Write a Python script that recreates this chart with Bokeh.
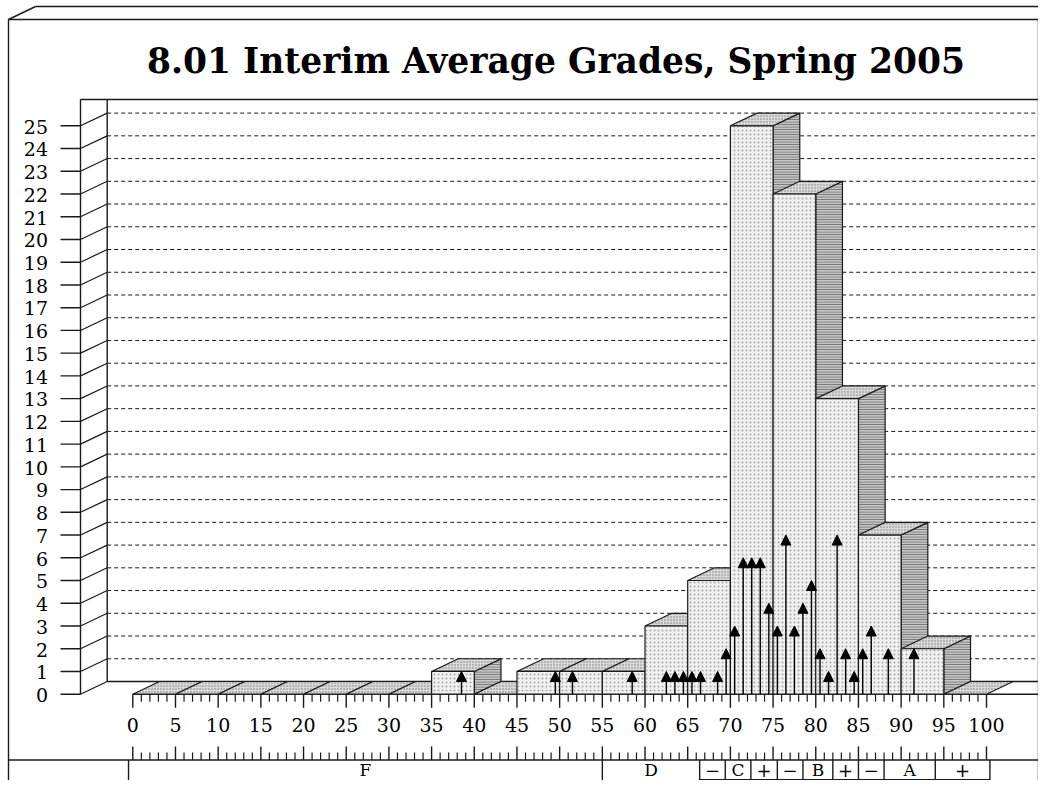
import numpy as np
from bokeh.plotting import figure
from bokeh.models import Range1d, Arrow, NormalHead, ColumnDataSource
from bokeh.core.properties import value
from bokeh.embed import file_html
from bokeh.resources import INLINE

# ---------------- data ----------------
TITLE = "8.01 Interim Average Grades, Spring 2005"
bin_lefts = [0, 5, 10, 15, 20, 25, 30, 35, 40, 45, 50, 55, 60, 65, 70, 75, 80, 85, 90, 95]
bin_width = 5
bin_counts = [0, 0, 0, 0, 0, 0, 0, 1, 0, 1, 1, 1, 3, 5, 25, 22, 13, 7, 2, 0]

score_x = [38.5, 49.5, 51.5, 58.5, 62.5, 63.5, 64.5, 65.5, 66.5, 68.5,
           69.5, 70.5, 71.5, 72.5, 73.5, 74.5, 75.5, 76.5, 77.5, 78.5,
           79.5, 80.5, 81.5, 82.5, 83.5, 84.5, 85.5, 86.5, 88.5, 91.5]
score_n = [1, 1, 1, 1, 1, 1, 1, 1, 1, 1,
           2, 3, 6, 6, 6, 4, 3, 7, 3, 4,
           5, 2, 1, 7, 2, 1, 2, 3, 2, 2]

count_ticks = list(range(0, 26))
grade_major = list(range(0, 101, 5))
grade_minor = [g for g in range(0, 101) if g % 5]

letter_names = ["F", "D", "C", "B", "A"]
letter_edges = [-0.5, 55, 66.4, 75.5, 85, 100.4]
sub_edges = [66.4, 69.4, 72.4, 75.5, 78.5, 82.0, 85.0, 88.0, 94.0, 100.4]
sub_signs = ["\u2212", "", "+", "\u2212", "", "+", "\u2212", "", "+"]

# ---------------- layout (canvas pixels -> data units) ----------------
PXG = 8.537      # px per grade point
PXC = 22.736     # px per count
X0P = 132.3      # canvas x of grade 0
Y0P = 693.7      # canvas y of count 0


def gx(px):
    return (px - X0P) / PXG


def cy(py):
    return (Y0P - py) / PXC


DX = 26.7 / PXG
DY = 12.7 / PXC
W, H = 1038, 780
INK = "#1a1a1a"
FONT = value("DejaVu Serif")

p = figure(width=W, height=H, x_range=Range1d(gx(0), gx(W)),
           y_range=Range1d(cy(H), cy(0)), x_axis_type=None, y_axis_type=None,
           toolbar_location=None, output_backend="svg", min_border=0,
           outline_line_color=None, background_fill_color="white", title=None)
p.grid.visible = False

# ---- back wall dashed grid ----
wall_x = gx(80)
gk = count_ticks[1:]
p.segment(x0=[wall_x + DX] * len(gk), y0=[k + DY for k in gk],
          x1=[gx(1038)] * len(gk), y1=[k + DY for k in gk],
          line_color=INK, line_width=1, line_dash="4 3")

# ---- frame lines ----
seg = [
    (8, 19, 1038, 19), (8, 19, 8, 800), (1038, 19, 1038, 800),
    (35, 6, 1065, 6), (8, 19, 35, 6), (1038, 19, 1065, 6),
    (80, 99, 1038, 99), (80, 99, 80, Y0P), (106.7, 99, 106.7, Y0P - 12.7),
    (106.7, Y0P - 12.7, 1038, Y0P - 12.7), (X0P, Y0P, 1038, Y0P),
    (8, 759.5, 1038, 759.5),
]
p.segment(x0=[gx(s[0]) for s in seg], y0=[cy(s[1]) for s in seg],
          x1=[gx(s[2]) for s in seg], y1=[cy(s[3]) for s in seg],
          line_color=INK, line_width=1.4)

# ---- y ticks + left wall diagonals ----
p.segment(x0=[gx(60)] * len(count_ticks), y0=count_ticks,
          x1=[wall_x] * len(count_ticks), y1=count_ticks, line_color=INK, line_width=1.4)
p.segment(x0=[wall_x] * len(count_ticks), y0=count_ticks,
          x1=[wall_x + DX] * len(count_ticks), y1=[k + DY for k in count_ticks],
          line_color=INK, line_width=1.2)
p.text(x=[gx(47.5)] * len(count_ticks), y=[k - 0.8 / PXC for k in count_ticks],
       text=[str(k) for k in count_ticks], text_font=FONT, text_font_size=value("19px"),
       text_align="right", text_baseline="middle", text_color="black")

# ---- 3D bars ----
sides_x, sides_y, tops_x, tops_y, fr_x, fr_y = [], [], [], [], [], []
for x0, c in zip(bin_lefts, bin_counts):
    x1 = x0 + bin_width
    tops_x.append([x0, x1, x1 + DX, x0 + DX])
    tops_y.append([c, c, c + DY, c + DY])
    if c > 0:
        sides_x.append([x1, x1 + DX, x1 + DX, x1])
        sides_y.append([0, DY, c + DY, c])
        fr_x.append([x0, x1, x1, x0])
        fr_y.append([0, 0, c, c])
p.patches(sides_x, sides_y, fill_color="#c6c6c6", line_color=INK, line_width=1.2,
          hatch_pattern="horizontal_line", hatch_color="#6a6a6a", hatch_scale=2.5,
          hatch_weight=1)
p.patches(tops_x, tops_y, fill_color="#dadada", line_color=INK, line_width=1.2,
          hatch_pattern="dot", hatch_color="#7a7a7a", hatch_scale=3)
p.patches(fr_x, fr_y, fill_color="#f1f1f1", line_color=INK, line_width=1.2,
          hatch_pattern="dot", hatch_color="#a8a8a8", hatch_scale=4)

# ---- arrows (individual grade counts) ----
asrc = ColumnDataSource(dict(x=score_x, y0=[0] * len(score_x), y1=score_n))
p.add_layout(Arrow(end=NormalHead(size=10, fill_color="black", line_color="black", line_width=1),
                   x_start="x", y_start="y0", x_end="x", y_end="y1", source=asrc,
                   line_color="black", line_width=1.4))

# ---- x ruler (upper) ----
maj_len = 13.6 / PXC
min_len = 7.5 / PXC
p.segment(x0=grade_major, y0=[0] * len(grade_major), x1=grade_major,
          y1=[-maj_len] * len(grade_major), line_color=INK, line_width=1.4)
p.segment(x0=grade_minor, y0=[0] * len(grade_minor), x1=grade_minor,
          y1=[-min_len] * len(grade_minor), line_color=INK, line_width=1.2)
p.text(x=grade_major, y=[cy(724.2)] * len(grade_major), text=[str(g) for g in grade_major],
       text_font=FONT, text_font_size=value("19px"), text_align="center",
       text_baseline="middle", text_color="black")

# ---- x ruler (lower) ----
base2 = cy(759.5)
p.segment(x0=grade_major, y0=[base2] * len(grade_major), x1=grade_major,
          y1=[base2 + maj_len] * len(grade_major), line_color=INK, line_width=1.4)
p.segment(x0=grade_minor, y0=[base2] * len(grade_minor), x1=grade_minor,
          y1=[base2 + min_len] * len(grade_minor), line_color=INK, line_width=1.2)

# ---- grade table ----
bot = cy(800)
row2 = cy(779.3)
p.segment(x0=letter_edges, y0=[base2] * len(letter_edges), x1=letter_edges,
          y1=[bot] * len(letter_edges), line_color=INK, line_width=1.4)
inner = [e for e in sub_edges if e not in letter_edges]
p.segment(x0=inner, y0=[base2] * len(inner), x1=inner, y1=[row2] * len(inner),
          line_color=INK, line_width=1.4)
p.segment(x0=[sub_edges[0]], y0=[row2], x1=[sub_edges[-1]], y1=[row2],
          line_color=INK, line_width=1.4)

# letter grades: F and D span the table; C, B, A sit in the middle sub-cells
mid_sub = [(a + b) / 2 for a, b in zip(sub_edges[:-1], sub_edges[1:])]
lx = [(letter_edges[0] + letter_edges[1]) / 2, (letter_edges[1] + letter_edges[2]) / 2,
      mid_sub[1], mid_sub[4], mid_sub[7]]
p.text(x=lx, y=[cy(769)] * len(lx), text=letter_names, text_font=FONT,
       text_font_size=value("17px"), text_align="center", text_baseline="middle",
       text_color="black")

sign_x = [x for x, s in zip(mid_sub, sub_signs) if s]
sign_t = [s for s in sub_signs if s]
p.text(x=sign_x, y=[cy(769)] * len(sign_x), text=sign_t, text_font=FONT,
       text_font_size=value("18px"), text_align="center", text_baseline="middle",
       text_color="black")

# ---- title ----
p.text(x=[gx(555.5)], y=[cy(60)], text=[TITLE], text_font=FONT,
       text_font_size=value("34.5px"), text_font_style="bold", text_align="center",
       text_baseline="middle", text_color="black")

open("out.html", "w").write(file_html(p, INLINE))
